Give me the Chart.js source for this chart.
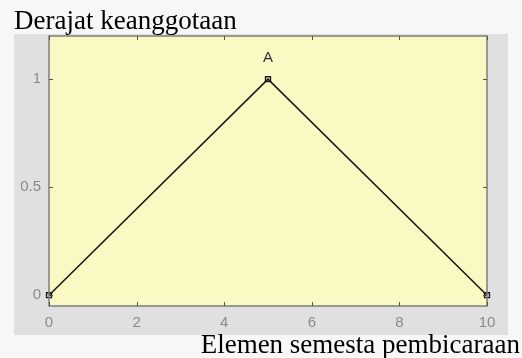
<!DOCTYPE html>
<html>
<head>
<meta charset="utf-8">
<script src="https://cdn.jsdelivr.net/npm/chart.js@4/dist/chart.umd.min.js"></script>
<style>
  html, body { margin: 0; padding: 0; background: #f7f7f7; }
  canvas { display: block; }
</style>
</head>
<body>
<canvas id="mf" width="522" height="358"></canvas>
<script>
// Triangular membership function "A" on the universe [0, 10]
const universe = [0, 5, 10];
const membership = [0, 1, 0];
const mfName = 'A';
const xTicks = [0, 2, 4, 6, 8, 10];
const yTicks = [0, 0.5, 1];
const yTickLabels = ['0', '0.5', '1'];
const yAxisTitle = 'Derajat keanggotaan';
const xAxisTitle = 'Elemen semesta pembicaraan';

const points = universe.map((x, i) => ({ x: x, y: membership[i] }));

// Backgrounds: figure panel behind the axes and the plot area fill
const panelPlugin = {
  id: 'panel',
  beforeDraw(chart) {
    const { ctx, chartArea: a } = chart;
    ctx.save();
    ctx.fillStyle = '#f7f7f7';
    ctx.fillRect(0, 0, chart.width, chart.height);
    ctx.fillStyle = '#e0e0e0';
    ctx.fillRect(14, 34, 494, 301);
    ctx.fillStyle = '#fbf9c3';
    ctx.fillRect(a.left, a.top, a.right - a.left, a.bottom - a.top);
    ctx.restore();
  }
};

// Box around the axes with inward tick marks, plus the texts
const framePlugin = {
  id: 'frame',
  afterDatasetsDraw(chart) {
    const { ctx, chartArea: a, scales } = chart;
    ctx.save();
    ctx.strokeStyle = '#7d7d7d';
    ctx.lineWidth = 1.5;
    ctx.strokeRect(a.left, a.top, a.right - a.left, a.bottom - a.top);
    ctx.lineWidth = 1;
    ctx.strokeStyle = '#555';
    const tl = 4;
    ctx.beginPath();
    xTicks.forEach(v => {
      const px = Math.round(scales.x.getPixelForValue(v)) + 0.5;
      ctx.moveTo(px, a.bottom); ctx.lineTo(px, a.bottom - tl);
      ctx.moveTo(px, a.top); ctx.lineTo(px, a.top + tl);
    });
    yTicks.forEach(v => {
      const py = Math.round(scales.y.getPixelForValue(v)) + 0.5;
      ctx.moveTo(a.left, py); ctx.lineTo(a.left + tl, py);
      ctx.moveTo(a.right, py); ctx.lineTo(a.right - tl, py);
    });
    ctx.stroke();

    // name of the membership function above its peak
    const peak = membership.indexOf(Math.max(...membership));
    ctx.fillStyle = '#333';
    ctx.font = '15px "Liberation Sans", Arial, sans-serif';
    ctx.textAlign = 'center';
    ctx.textBaseline = 'middle';
    ctx.fillText(mfName, scales.x.getPixelForValue(universe[peak]),
                 scales.y.getPixelForValue(membership[peak] + 0.1));

    // axis titles
    ctx.fillStyle = '#000';
    ctx.font = '27px "Liberation Serif", "Times New Roman", serif';
    ctx.textBaseline = 'alphabetic';
    ctx.textAlign = 'left';
    ctx.fillText(yAxisTitle, 14, 29);
    ctx.textAlign = 'right';
    ctx.fillText(xAxisTitle, 520, 353);
    ctx.restore();
  }
};

new Chart(document.getElementById('mf'), {
  type: 'scatter',
  data: {
    datasets: [{
      label: mfName,
      data: points,
      showLine: true,
      borderColor: '#1a1a1a',
      borderWidth: 1.6,
      pointStyle: 'rect',
      pointRadius: 3.5,
      pointBorderWidth: 1.4,
      pointBorderColor: '#1a1a1a',
      pointBackgroundColor: 'rgba(0,0,0,0)',
      clip: false
    }]
  },
  plugins: [panelPlugin, framePlugin],
  options: {
    responsive: false,
    animation: false,
    layout: { padding: { left: 14, top: 36, right: 35, bottom: 23 } },
    plugins: { legend: { display: false }, tooltip: { enabled: false } },
    scales: {
      x: {
        type: 'linear',
        min: 0, max: 10,
        afterFit(s) { s.height = 29; },
        afterBuildTicks(s) { s.ticks = xTicks.map(v => ({ value: v })); },
        grid: { display: false, drawTicks: false },
        border: { display: false },
        ticks: {
          padding: 8,
          color: '#8a8a8a',
          font: { family: '"Liberation Sans", Arial, sans-serif', size: 15 },
          maxRotation: 0
        }
      },
      y: {
        type: 'linear',
        min: -0.05, max: 1.2,
        afterFit(s) { s.width = 35; },
        afterBuildTicks(s) { s.ticks = yTicks.map(v => ({ value: v })); },
        grid: { display: false, drawTicks: false },
        border: { display: false },
        ticks: {
          padding: 8,
          color: '#8a8a8a',
          font: { family: '"Liberation Sans", Arial, sans-serif', size: 15 },
          callback(v) { return yTickLabels[yTicks.indexOf(v)]; }
        }
      }
    }
  }
});
</script>
</body>
</html>
